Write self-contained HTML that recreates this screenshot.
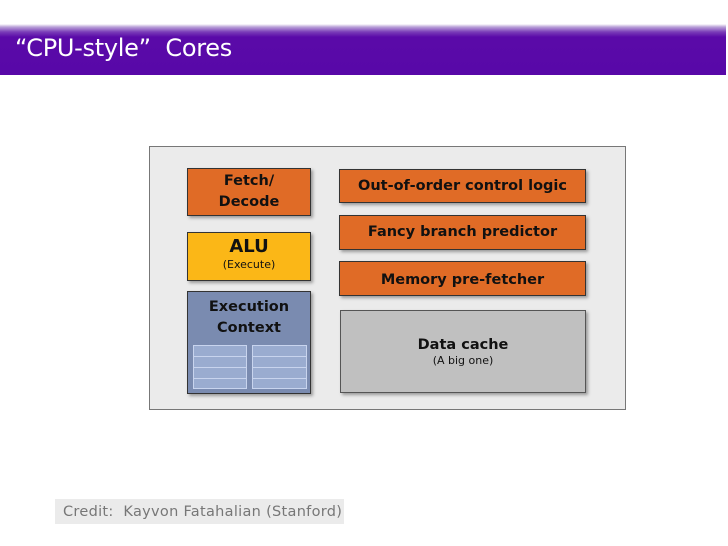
<!DOCTYPE html>
<html><head><meta charset="utf-8"><style>
body{margin:0;width:728px;height:546px;background:#fff;position:relative;overflow:hidden;font-family:"DejaVu Sans","Liberation Sans",sans-serif}
.hdr{position:absolute;left:0;top:24px;width:726px;height:51px;background:linear-gradient(#fff 0px,#b9a0d8 3px,#7a3cb8 8px,#5a0aa8 13px,#5808a8 100%)}
.ttl{position:absolute;left:15px;top:34px;color:#fff;font-size:24px;font-family:"DejaVu Sans",sans-serif;letter-spacing:-0.3px}
.b{position:absolute;box-sizing:border-box;border:1.5px solid #333;box-shadow:2px 2px 3px rgba(0,0,0,.35);text-align:center;font-weight:bold;color:#111;font-size:14.5px;white-space:nowrap}
.o{background:#e06b26}
.g{position:absolute;box-sizing:border-box;border:1px solid #c8d4ee;background:#9aacd0}
.g div{height:10px;border-bottom:1px solid #c8d4ee}
</style></head><body>
<div class="hdr"></div>
<div class="ttl">“CPU-style”&nbsp; Cores</div>
<div style="position:absolute;left:149px;top:146px;width:477px;height:264px;box-sizing:border-box;border:1px solid #777;background:#ebebeb"></div>
<div class="b o" style="left:187px;top:168px;width:124px;height:48px;line-height:21px;padding-top:2px">Fetch/<br>Decode</div>
<div class="b" style="left:187px;top:232px;width:124px;height:49px;background:#fbb717"><div style="font-size:18px;line-height:22px;margin-top:3px">ALU</div><div style="font-size:11px;font-weight:normal;line-height:14px">(Execute)</div></div>
<div class="b" style="left:187px;top:291px;width:124px;height:103px;background:#7a8bb0;line-height:21px;padding-top:5px">Execution<br>Context</div>
<div class="g" style="left:193px;top:345px;width:54px;height:44px"><div></div><div></div><div></div></div>
<div class="g" style="left:252px;top:345px;width:55px;height:44px"><div></div><div></div><div></div></div>
<div class="b o" style="left:339px;top:169px;width:247px;height:34px;line-height:32px">Out-of-order control logic</div>
<div class="b o" style="left:339px;top:215px;width:247px;height:35px;line-height:33px">Fancy branch predictor</div>
<div class="b o" style="left:339px;top:261px;width:247px;height:35px;line-height:37px">Memory pre-fetcher</div>
<div class="b" style="left:340px;top:310px;width:246px;height:83px;background:#c0c0c0;border-color:#555"><div style="margin-top:25px;line-height:18px">Data cache</div><div style="font-size:11px;font-weight:normal;line-height:13px">(A big one)</div></div>
<div style="position:absolute;left:55px;top:499px;width:289px;height:25px;background:#ebebeb;color:#777;font-size:14.5px;letter-spacing:0.3px;line-height:27px;padding-left:8px;box-sizing:border-box;white-space:nowrap">Credit:&nbsp; Kayvon Fatahalian (Stanford)</div>
</body></html>
